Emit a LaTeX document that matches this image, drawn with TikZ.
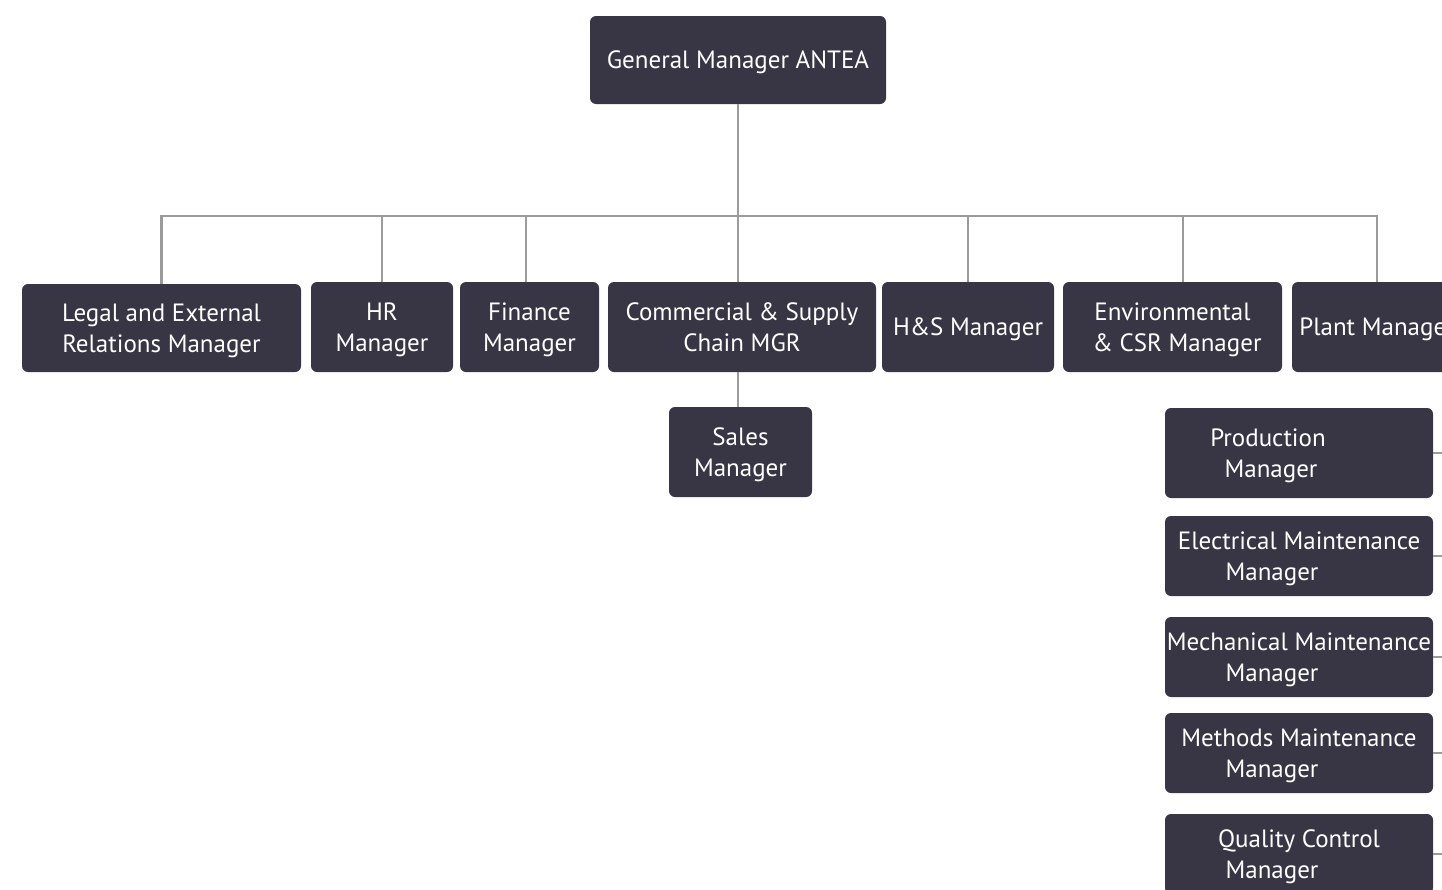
\documentclass[tikz,border=0pt]{standalone}
\usepackage{fontspec}
\setmainfont{PT Sans}
\usetikzlibrary{positioning}
\definecolor{boxfill}{RGB}{56,53,69}
\definecolor{linegray}{RGB}{155,155,155}
\tikzstyle{box} = [fill=boxfill, rounded corners=6pt, text=white, align=center, inner sep=0pt, text depth=0pt, font=\fontsize{25}{31}\selectfont]
\tikzstyle{link} = [draw=linegray, line width=2.5pt]

\begin{document}
\begin{tikzpicture}[x=1pt,y=-1pt]
\useasboundingbox (0,0) rectangle (1442,889);
\clip (0,0) rectangle (1442,889);
% top
\node[box, minimum width=296, minimum height=88] (gm) at (738,60) {General Manager ANTEA};
% first row
\node[box, minimum width=279, minimum height=88] (legal) at (161.5,328) {Legal and External\\Relations Manager};
\node[box, minimum width=142, minimum height=90] (hr) at (382,327) {HR\\Manager};
\node[box, minimum width=139, minimum height=90] (fin) at (529.5,327) {Finance\\Manager};
\node[box, minimum width=268, minimum height=90] (comm) at (742,327) {Commercial \& Supply\\Chain MGR};
\node[box, minimum width=172, minimum height=90] (hs) at (968,327) {H\&S Manager};
\node[box, minimum width=219, minimum height=90] (env) at (1172.5,327) {Environmental\\\kern9pt\& CSR Manager};
\node[box, minimum width=170, minimum height=90] (plant) at (1377,327) {Plant Manager};
% below commercial
\node[box, minimum width=143, minimum height=90] (sales) at (740.5,452) {Sales\\Manager};
% below plant
\node[box, minimum width=268, minimum height=90] (prod) at (1299,453) {Production\kern62pt\\Manager\kern56pt};
\node[box, minimum width=268, minimum height=80] (elec) at (1299,556) {Electrical Maintenance\\Manager\kern54pt};
\node[box, minimum width=268, minimum height=80] (mech) at (1299,657) {Mechanical Maintenance\\Manager\kern54pt};
\node[box, minimum width=268, minimum height=80] (meth) at (1299,753) {Methods Maintenance\\Manager\kern54pt};
\node[box, minimum width=268, minimum height=80] (qual) at (1299,854) {Quality Control\\Manager\kern54pt};

\coordinate (bus) at (738,216);
\coordinate (spine) at (1456,372);

\draw[link] (gm.south) -- (gm.south |- comm.north);
\draw[link] (legal.north) |- (bus) -| (plant.north);
\draw[link] (hr.north) -- (hr.north |- bus);
\draw[link] ([xshift=-3.5pt]fin.north) -- ([xshift=-3.5pt]fin.north |- bus);
\draw[link] (hs.north) -- (hs.north |- bus);
\draw[link] ([xshift=10.5pt]env.north) -- ([xshift=10.5pt]env.north |- bus);
\draw[link] (gm.south |- comm.south) -- (gm.south |- sales.north);
\draw[link] (spine) -- (spine |- qual.east);
\draw[link] (prod.east) -- (prod.east -| spine);
\draw[link] (elec.east) -- (elec.east -| spine);
\draw[link] (mech.east) -- (mech.east -| spine);
\draw[link] (meth.east) -- (meth.east -| spine);
\draw[link] (qual.east) -- (qual.east -| spine);
\end{tikzpicture}
\end{document}
